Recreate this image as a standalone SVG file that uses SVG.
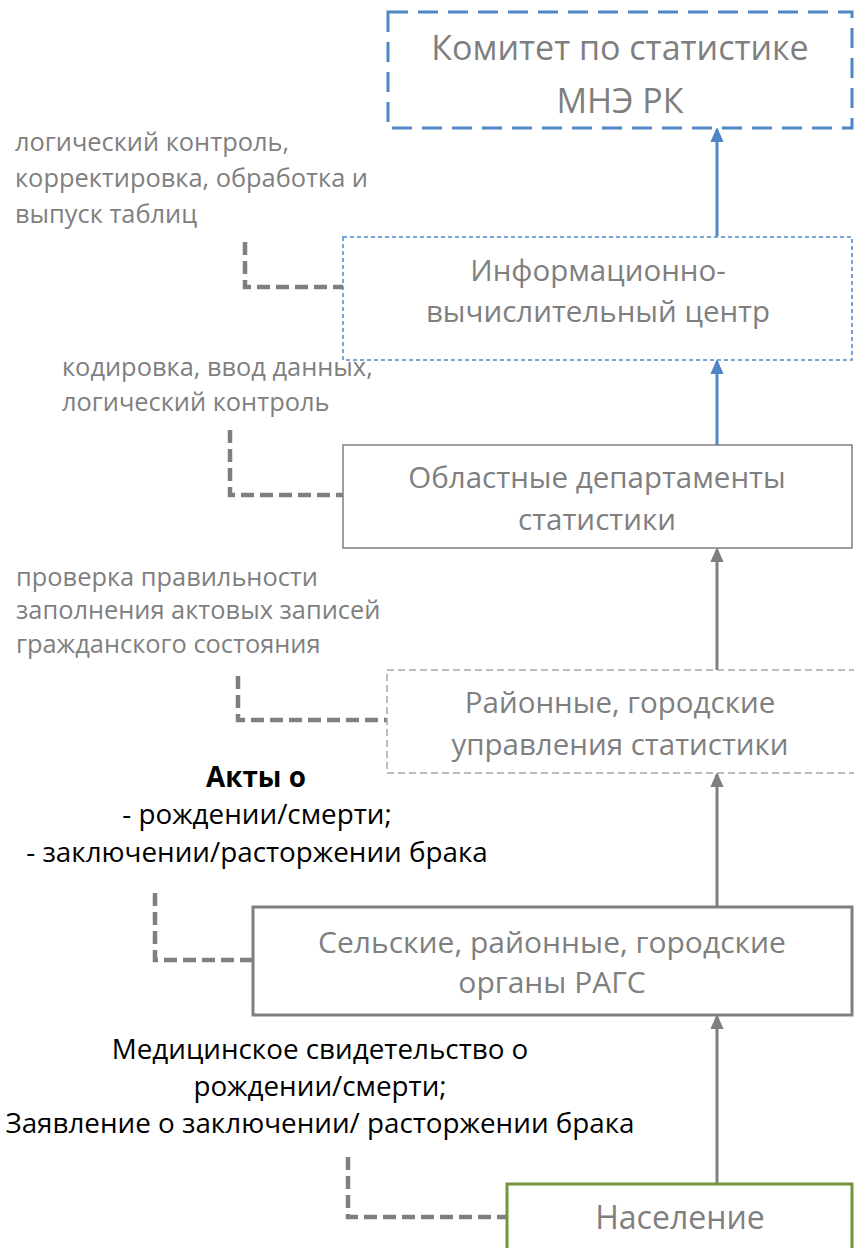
<svg xmlns="http://www.w3.org/2000/svg" width="854" height="1248" viewBox="0 0 854 1248">
<defs>
<style>
.bt{font-family:"Open Sans","Noto Sans",sans-serif;font-size:29.5px;fill:#7f7f7f;text-anchor:middle}
.top{font-size:34px}
.lab{font-family:"Open Sans","Noto Sans",sans-serif;font-size:25.4px;fill:#7f7f7f}
.blk{font-family:"Open Sans","Noto Sans",sans-serif;font-size:27.8px;fill:#000;text-anchor:middle}
.dc{fill:none;stroke:#7f7f7f;stroke-width:4.5;stroke-dasharray:13 6}
.ab{stroke:#4f86c6;stroke-width:3;fill:none}
.ag{stroke:#7f7f7f;stroke-width:3;fill:none}
</style>
<marker id="mb" markerWidth="5" markerHeight="4.4" refX="4" refY="2.2" orient="auto" markerUnits="strokeWidth"><path d="M0,0 L5,2.2 L0,4.4 z" fill="#4f86c6"/></marker>
<marker id="mg" markerWidth="5" markerHeight="4.4" refX="4" refY="2.2" orient="auto" markerUnits="strokeWidth"><path d="M0,0 L5,2.2 L0,4.4 z" fill="#7f7f7f"/></marker>
</defs>
<rect width="854" height="1248" fill="#fff"/>
<g id="connectors">
<line class="ab" x1="717" y1="236" x2="717" y2="130" marker-end="url(#mb)"/>
<line class="ab" x1="717" y1="445" x2="717" y2="362" marker-end="url(#mb)"/>
<line class="ag" x1="717" y1="670" x2="717" y2="550" marker-end="url(#mg)"/>
<line class="ag" x1="717" y1="907" x2="717" y2="775" marker-end="url(#mg)"/>
<line class="ag" x1="717" y1="1183" x2="717" y2="1017" marker-end="url(#mg)"/>
<path class="dc" d="M245,242 V287 H343"/>
<path class="dc" d="M230,430 V495 H343"/>
<path class="dc" d="M238,676 V720 H387"/>
<path class="dc" d="M155,893 V960 H252"/>
<path class="dc" d="M348,1157 V1217 H506"/>
</g>
<g id="n1">
<rect x="388" y="12" width="464" height="116" fill="#fff" stroke="#4f86c6" stroke-width="3" stroke-dasharray="20 10"/>
<text class="bt top" x="620" y="60">Комитет по статистике</text>
<text class="bt top" x="620" y="113">МНЭ РК</text>
</g>
<g id="n2">
<rect x="343" y="237" width="509" height="123" fill="#fff" stroke="#4f86c6" stroke-width="1.5" stroke-dasharray="4 3"/>
<text class="bt" x="598" y="281">Информационно-</text>
<text class="bt" x="598" y="322">вычислительный центр</text>
</g>
<g id="n3">
<rect x="343" y="445" width="509" height="103" fill="#fff" stroke="#7f7f7f" stroke-width="1.5"/>
<text class="bt" x="597" y="488">Областные департаменты</text>
<text class="bt" x="597" y="530">статистики</text>
</g>
<g id="n4">
<rect x="387" y="670" width="480" height="103" fill="#fff" stroke="#a6a6a6" stroke-width="1.5" stroke-dasharray="7 4"/>
<text class="bt" x="620" y="713">Районные, городские</text>
<text class="bt" x="620" y="755">управления статистики</text>
</g>
<g id="n5">
<rect x="253" y="907" width="599" height="108" fill="#fff" stroke="#7f7f7f" stroke-width="3"/>
<text class="bt" x="552" y="953" style="font-size:30px">Сельские, районные, городские</text>
<text class="bt" x="552" y="993" style="font-size:30px">органы РАГС</text>
</g>
<g id="n6">
<rect x="507" y="1184" width="345" height="66" fill="#fff" stroke="#77933c" stroke-width="3"/>
<text class="bt" x="680" y="1229" style="font-size:32px">Население</text>
</g>
<g id="labels">
<text class="lab" x="15" y="151">логический контроль,</text>
<text class="lab" x="15" y="187">корректировка, обработка и</text>
<text class="lab" x="15" y="223">выпуск таблиц</text>
<text class="lab" x="62" y="376">кодировка, ввод данных,</text>
<text class="lab" x="62" y="411">логический контроль</text>
<text class="lab" x="16" y="586">проверка правильности</text>
<text class="lab" x="16" y="619">заполнения актовых записей</text>
<text class="lab" x="16" y="653">гражданского состояния</text>
<text class="blk" x="256" y="787" font-weight="bold">Акты о</text>
<text class="blk" x="257" y="824">- рождении/смерти;</text>
<text class="blk" x="257" y="862">- заключении/расторжении брака</text>
<text class="blk" x="320" y="1059">Медицинское свидетельство о</text>
<text class="blk" x="320" y="1096">рождении/смерти;</text>
<text class="blk" x="320" y="1133">Заявление о заключении/ расторжении брака</text>
</g>
</svg>
